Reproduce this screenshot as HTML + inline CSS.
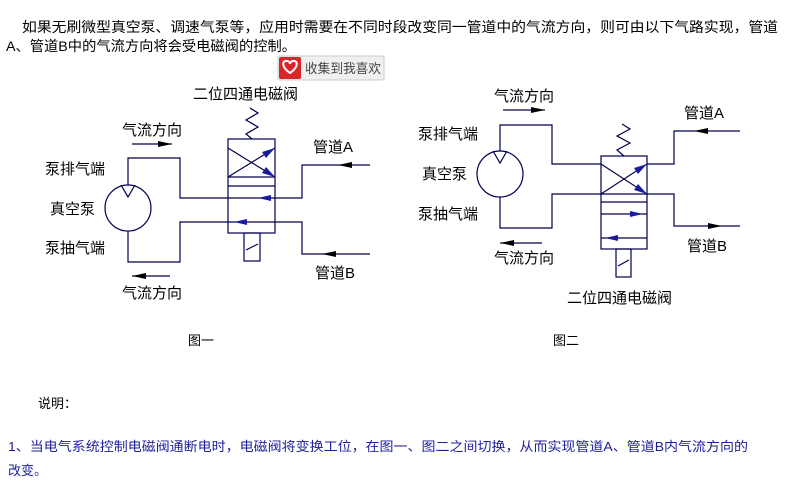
<!DOCTYPE html>
<html><head><meta charset="utf-8"><style>
html,body{margin:0;padding:0;background:#fff;width:802px;height:504px;overflow:hidden}
svg{display:block}
text{font-family:"Liberation Sans","Noto Sans CJK SC","WenQuanYi Zen Hei",sans-serif}
</style></head><body>
<svg width="802" height="504" viewBox="0 0 802 504" xmlns="http://www.w3.org/2000/svg">
<g fill="#000" font-size="14">
<text x="22" y="32" textLength="756" lengthAdjust="spacingAndGlyphs">如果无刷微型真空泵、调速气泵等，应用时需要在不同时段改变同一管道中的气流方向，则可由以下气路实现，管道</text>
<text x="6" y="51" textLength="290" lengthAdjust="spacingAndGlyphs">A、管道B中的气流方向将会受电磁阀的控制。</text>
</g>
<rect x="278" y="56" width="106" height="24" rx="2" fill="#f0f0f0" stroke="#ccc"/>
<rect x="279" y="57" width="22" height="22" rx="2" fill="#d8262b"/>
<path d="M290,73 C280,66 283,60 287,61 C289,61 290,63 290,64 C290,63 291,61 293,61 C297,60 300,66 290,73Z" fill="none" stroke="#fff" stroke-width="2"/>
<text x="305" y="73" font-size="13" fill="#444" textLength="76" lengthAdjust="spacingAndGlyphs">收集到我喜欢</text>

<g fill="none" stroke="#000050" stroke-width="1.2">
<!-- Figure 1 -->
<circle cx="128" cy="208" r="23"/>
<path d="M121,185 L128,197 L135,185"/>
<path d="M128,185 V158 H180 V198 H302 V165 H370"/>
<path d="M128,231 V262 H180 V222 H302 V254 H370"/>
<rect x="228" y="139" width="47" height="94" fill="#fff"/>
<path d="M228,177 H275 M228,186 H275 M228,148 L275,177 M228,177 L275,148"/>
<path d="M228,198 H275 M228,222 H275"/>
<path d="M252,139 L246,134 L258,127 L246,120 L258,113 L250,108"/>
<rect x="244" y="233" width="16" height="28"/>
<path d="M246,250 L258,244"/>
<path d="M132,144 H172 M132,276 H170"/>
<!-- Figure 2 -->
<circle cx="500" cy="174" r="23"/>
<path d="M493,151 L500,163 L507,151"/>
<path d="M500,151 V125 H552 V164 H601"/>
<path d="M500,197 V228 H552 V194 H601"/>
<path d="M647,164 H674 V131 H740 M647,194 H674 V226 H740"/>
<rect x="601" y="156" width="46" height="93" fill="#fff"/>
<path d="M601,194 H647 M601,202 H647 M601,164 L647,194 M601,194 L647,164"/>
<path d="M601,214 H647 M601,238 H647"/>
<path d="M624,156 L617,150 L630,143 L617,136 L630,129 L622,124"/>
<rect x="616" y="249" width="15" height="28"/>
<path d="M618,266 L629,260"/>
<path d="M503,110 H545 M500,243 H542"/>
</g>
<g fill="#000">
<path d="M172,144 L158,141 L158,147Z"/>
<path d="M132,276 L146,273 L146,279Z"/>
<path d="M338,165 L352,162 L352,168Z"/>
<path d="M322,254 L336,251 L336,257Z"/>
<path d="M545,110 L531,107 L531,113Z"/>
<path d="M500,243 L514,240 L514,246Z"/>
<path d="M694,131 L708,128 L708,134Z"/>
<path d="M722,226 L708,223 L708,229Z"/>
</g>
<g fill="#1a1aa0">
<path d="M275,148 L262,152 L266,158Z"/>
<path d="M275,177 L266,167 L262,173Z"/>
<path d="M258,198 L271,195 L271,201Z"/>
<path d="M234,222 L247,219 L247,225Z"/>
<path d="M647,164 L634,168 L638,174Z"/>
<path d="M647,194 L638,184 L634,190Z"/>
<path d="M643,214 L630,211 L630,217Z"/>
<path d="M605,238 L618,235 L618,241Z"/>
</g>
<g fill="#000" font-size="15">
<text x="193" y="99">二位四通电磁阀</text>
<text x="122" y="135">气流方向</text>
<text x="45" y="174">泵排气端</text>
<text x="50" y="214">真空泵</text>
<text x="45" y="253">泵抽气端</text>
<text x="122" y="298">气流方向</text>
<text x="313" y="152">管道A</text>
<text x="315" y="278">管道B</text>
<text x="494" y="101">气流方向</text>
<text x="418" y="139">泵排气端</text>
<text x="422" y="179">真空泵</text>
<text x="418" y="219">泵抽气端</text>
<text x="494" y="263">气流方向</text>
<text x="684" y="118">管道A</text>
<text x="687" y="251">管道B</text>
<text x="567" y="303">二位四通电磁阀</text>
<text x="188" y="345" font-size="13">图一</text>
<text x="553" y="345" font-size="13">图二</text>
<text x="38" y="408" font-size="13">说明：</text>
</g>
<g fill="#1e1e9c" font-size="13">
<text x="8" y="451" textLength="740" lengthAdjust="spacingAndGlyphs">1、当电气系统控制电磁阀通断电时，电磁阀将变换工位，在图一、图二之间切换，从而实现管道A、管道B内气流方向的</text>
<text x="8" y="475">改变。</text>
</g>
</svg>
</body></html>
